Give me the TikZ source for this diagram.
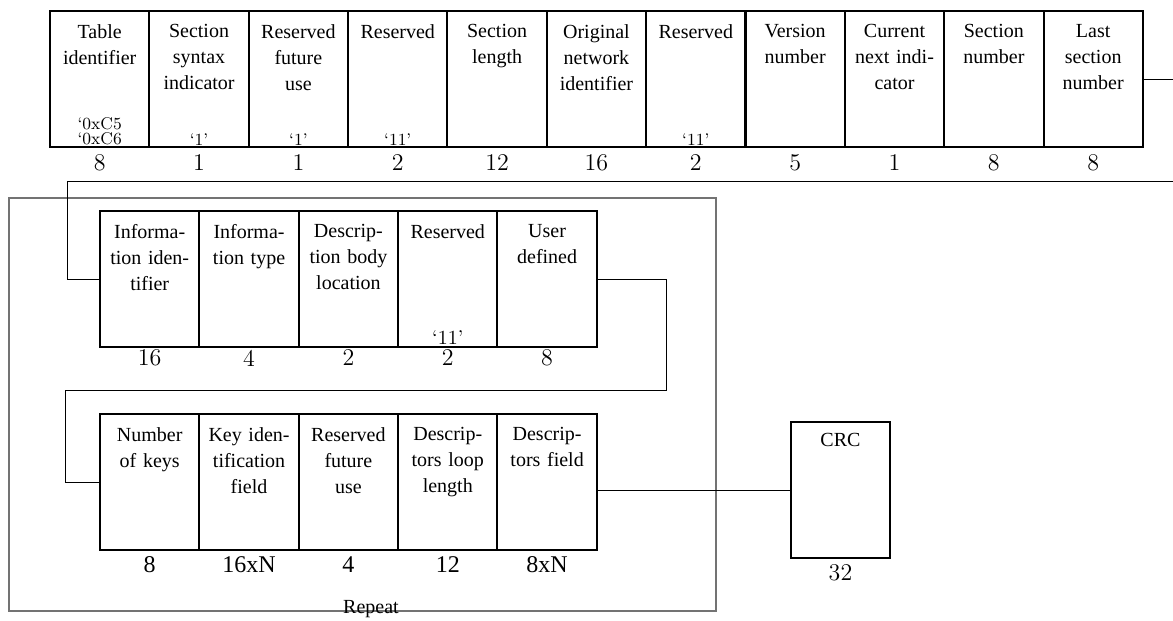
\documentclass[tikz,border=0pt]{standalone}
\usepackage{fontspec}
\usepackage{tikz}
\usetikzlibrary{positioning}
\newfontfamily\timesfont{Liberation Serif}

\tikzset{
  field/.style={draw,line width=1pt,minimum width=49.7pt,minimum height=68pt,inner sep=0pt,outer sep=0pt},
  fieldtext/.style={font=\timesfont\fontsize{10}{13}\selectfont,align=center,text width=48pt,anchor=north,inner sep=0pt},
  valtext/.style={font=\fontsize{8.5}{7.6}\selectfont,align=center,anchor=south,inner sep=0pt},
  bitstext/.style={font=\large,anchor=north,inner sep=0pt},
  link/.style={line width=0.5pt},
  loopbox/.style={draw=black!55,line width=0.6pt}
}

\begin{document}
\begin{tikzpicture}[x=0.5pt,y=-0.5pt]
\useasboundingbox (0,0) rectangle (1173,621);

%========================
% Intestazione
%========================

\foreach \txt/\val/\bits [count=\i from 0] in {
  {Table\\identifier}/{`0xC5\\`0xC6}/8,
  {Section\\syntax\\indicator}/{`1'}/1,
  {Reserved\\future\\use}/{`1'}/1,
  {Reserved}/{`11'}/2,
  {Section\\length}/{}/12,
  {Original\\network\\identifier}/{}/16,
  {Reserved}/{`11'}/2,
  {Version\\number}/{}/5,
  {Current\\next indi-\\cator}/{}/1,
  {Section\\number}/{}/8,
  {Last\\section\\number}/{}/8}
{
    \node[field] (hdr\i) at (99.7+99.35*\i,79) {};
    \node[fieldtext] (hdrtxt\i) at ([yshift=-6.5pt]hdr\i.north) {\txt};
    \node[valtext] (hdrval\i) at ([yshift=0.7pt]hdr\i.south) {\val};
    \node[bitstext] (hdrbits\i) at ([yshift=-3.6pt]hdr\i.south) {\bits};
}

%========================
% Ciclo: informazioni
%========================

% riquadro repeat
\draw[loopbox] (9,198) rectangle (716,611);
\node[font=\timesfont,inner sep=0pt] (rep) at (371,609) {Repeat};

\foreach \txt/\val/\bits [count=\i from 0] in {
  {Informa-\\tion iden-\\tifier}/{}/16,
  {Informa-\\tion type}/{}/4,
  {Descrip-\\tion body\\location}/{}/2,
  {Reserved}/{`11'}/2,
  {User\\defined}/{}/8}
{
    \node[field] (info\i) at (149.7+99.35*\i,279) {};
    \node[fieldtext] (infotxt\i) at ([yshift=-6.5pt]info\i.north) {\txt};
    \node[valtext,font=\fontsize{10}{10}\selectfont] (infoval\i) at ([yshift=1pt]info\i.south) {\val};
    \node[bitstext] (infobits\i) at ([yshift=-1.2pt]info\i.south) {\bits};
}

%========================
% Ciclo: chiavi
%========================

\foreach \txt/\bits [count=\i from 0] in {
  {Number\\of keys}/8,
  {Key iden-\\tification\\field}/16xN,
  {Reserved\\future\\use}/4,
  {Descrip-\\tors loop\\length}/12,
  {Descrip-\\tors field}/8xN}
{
    \node[field] (key\i) at (149.7+99.35*\i,482) {};
    \node[fieldtext] (keytxt\i) at ([yshift=-6.5pt]key\i.north) {\txt};
    \node[bitstext,font=\timesfont\fontsize{12}{14}\selectfont] (keybits\i) at ([yshift=-3.2pt]key\i.south) {\bits};
}

%========================
% CRC
%========================

\node[field] (crc) at (840.5,490) {};
\node[fieldtext] (crctxt) at ([yshift=-5.5pt]crc.north) {CRC};
\node[bitstext] (crcbits) at ([yshift=-3.2pt]crc.south) {32};

%========================
% Collegamenti
%========================

\coordinate (redge) at (1173,181);
\coordinate (turnA) at (67,181);
\coordinate (turnB) at (666,390);
\coordinate (turnC) at (65,390);

\draw[link] (hdr10.east) -- (hdr10.east -| redge);
\draw[link] (redge) -- (turnA) |- (info0.west);
\draw[link] (info4.east) -| (turnB) -- (turnC) |- (key0.west);
\draw[link] (crc.west -| key4.east) -- (crc.west);
\end{tikzpicture}
\end{document}
